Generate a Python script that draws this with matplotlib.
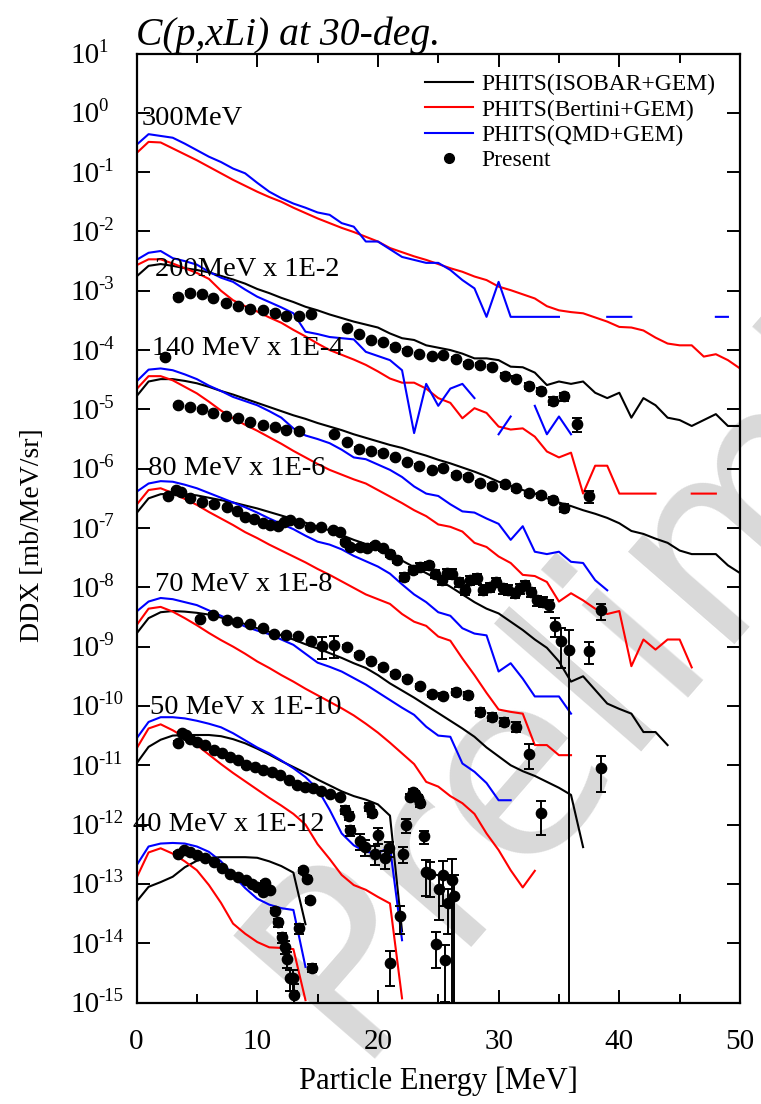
import numpy as np
import matplotlib
matplotlib.use('Agg')
import matplotlib.pyplot as plt
from matplotlib.ticker import LogLocator, NullLocator, MultipleLocator, NullFormatter
from matplotlib.transforms import blended_transform_factory, offset_copy
from matplotlib.lines import Line2D

plt.rcParams['font.family'] = ['Liberation Serif', 'DejaVu Serif']
plt.rcParams['axes.unicode_minus'] = False

nan = np.nan

# ---------------- model curves: log10(DDX) on a 1-MeV grid starting at 0 MeV ----------------
grid = np.arange(0, 51)

qmd_300 = [-0.54, -0.36, -0.39, -0.42, -0.52, -0.63, -0.74, -0.83, -0.94, -1.02, -1.18, -1.33, -1.44,
           -1.53, -1.60, -1.68, -1.72, -1.86, -1.92, -2.17, -2.17, -2.30, -2.43, -2.48, -2.53, -2.53,
           -2.65, -2.82, -2.96, -3.44, -2.85, -3.44, -3.44, -3.44, -3.44, -3.44, nan, nan, nan, -3.44,
           -3.44, -3.44, nan, nan, nan, nan, nan, nan, -3.44, -3.44]
bert_300 = [-0.68, -0.49, -0.50, -0.60, -0.70, -0.80, -0.91, -1.02, -1.13, -1.23, -1.33, -1.42, -1.50,
            -1.60, -1.69, -1.78, -1.86, -1.94, -2.01, -2.09, -2.17, -2.28, -2.35, -2.42, -2.48, -2.55,
            -2.62, -2.68, -2.76, -2.82, -2.93, -2.99, -3.06, -3.13, -3.26, -3.33, -3.36, -3.38, -3.45,
            -3.52, -3.61, -3.62, -3.67, -3.79, -3.89, -3.92, -3.92, -4.11, -4.07, -4.17, -4.31]

qmd_200 = [-2.48, -2.36, -2.33, -2.45, -2.50, -2.56, -2.68, -2.78, -2.85, -2.98, -3.10, -3.19, -3.28,
           -3.38, -3.69, -3.73, -3.78, -3.80, -3.82, -4.03, -4.10, -4.17, -4.34, -5.40, -4.57, -4.94,
           -4.65, -4.57, -4.81, nan, -5.42, -5.12, nan, -4.94, -5.42, -5.12, -5.42]
bert_200 = [-2.57, -2.47, -2.47, -2.54, -2.62, -2.70, -2.80, -3.00, -3.16, -3.26, -3.35, -3.45, -3.54,
            -3.66, -3.77, -3.89, -4.00, -4.08, -4.16, -4.25, -4.36, -4.48, -4.55, -4.55, -4.65, -4.81,
            -4.89, -5.15, -4.98, -5.06, -5.29, -5.34, -5.32, -5.46, -5.71, -5.81, -5.73, -6.42, -5.95,
            -5.95, -6.42, -6.42, -6.42, -6.42, nan, nan, -6.42, -6.42, -6.42]
isob_200 = [-2.76, -2.58, -2.55, -2.58, -2.62, -2.65, -2.69, -2.75, -2.81, -2.88, -2.97, -3.04, -3.12,
            -3.19, -3.27, -3.33, -3.40, -3.46, -3.52, -3.57, -3.62, -3.72, -3.80, -3.83, -3.92, -3.96,
            -4.00, -4.06, -4.14, -4.14, -4.17, -4.28, -4.29, -4.38, -4.59, -4.53, -4.57, -4.53, -4.72,
            -4.81, -4.72, -5.14, -4.81, -4.93, -5.14, -5.18, -5.28, -5.18, -5.08, -5.28, -5.28]

qmd_140 = [-4.53, -4.33, -4.31, -4.34, -4.41, -4.49, -4.60, -4.69, -4.79, -4.86, -4.93, -5.03, -5.14,
           -5.32, -5.44, -5.50, -5.57, -5.68, -5.81, -5.84, -5.93, -6.02, -6.14, -6.30, -6.42, -6.46,
           -6.60, -6.72, -6.74, -6.84, -6.93, -7.20, -6.97, -7.40, -7.44, -7.40, -7.57, -7.59, -7.88, -8.05]
bert_140 = [-4.66, -4.44, -4.44, -4.51, -4.62, -4.73, -4.87, -5.02, -5.15, -5.26, -5.36, -5.47, -5.58,
            -5.70, -5.81, -5.92, -6.02, -6.10, -6.18, -6.25, -6.36, -6.47, -6.58, -6.70, -6.80, -6.94,
            -6.98, -7.06, -7.25, -7.32, -7.48, -7.59, -7.79, -7.81, -7.91, -8.24, -8.10, -8.22, -8.36,
            -8.45, -8.40, -9.33, -8.88, -9.05, -8.88, -8.88, -9.35]
isob_140 = [-4.78, -4.53, -4.49, -4.49, -4.52, -4.56, -4.62, -4.69, -4.75, -4.82, -4.89, -4.96, -5.03,
            -5.10, -5.16, -5.23, -5.29, -5.35, -5.42, -5.48, -5.54, -5.60, -5.65, -5.72, -5.78, -5.85,
            -5.91, -5.98, -6.05, -6.13, -6.22, -6.29, -6.36, -6.42, -6.50, -6.57, -6.63, -6.70, -6.76,
            -6.83, -6.92, -7.05, -7.10, -7.18, -7.25, -7.38, -7.44, -7.44, -7.44, -7.63, -7.76]

qmd_80 = [-6.39, -6.25, -6.21, -6.22, -6.27, -6.33, -6.41, -6.49, -6.57, -6.65, -6.74, -6.84, -6.93,
          -7.02, -7.13, -7.23, -7.28, -7.36, -7.47, -7.56, -7.65, -7.77, -7.95, -8.12, -8.25, -8.42,
          -8.48, -8.69, -8.78, -8.81, -9.42, -9.28, -9.54, -9.84, -9.84, -9.84, -10.13]
bert_80 = [-6.61, -6.36, -6.33, -6.41, -6.51, -6.61, -6.73, -6.84, -6.95, -7.07, -7.17, -7.28, -7.38,
           -7.48, -7.58, -7.69, -7.79, -7.90, -8.01, -8.12, -8.20, -8.28, -8.45, -8.58, -8.65, -8.83,
           -8.90, -9.20, -9.48, -9.78, -10.06, -10.10, -10.13, -10.66, -10.66, -10.83, -10.83]
isob_80 = [-6.75, -6.50, -6.43, -6.42, -6.43, -6.45, -6.49, -6.53, -6.57, -6.62, -6.67, -6.73, -6.79,
           -6.85, -6.91, -6.98, -7.04, -7.12, -7.20, -7.27, -7.36, -7.45, -7.55, -7.66, -7.76, -7.87,
           -7.99, -8.12, -8.25, -8.36, -8.44, -8.58, -8.72, -8.88, -9.02, -9.25, -9.59, -9.50, -9.73,
           -9.96, -10.05, -10.13, -10.44, -10.44, -10.66]

qmd_70 = [-8.41, -8.24, -8.18, -8.20, -8.25, -8.30, -8.39, -8.48, -8.57, -8.66, -8.73, -8.79, -8.88,
          -8.97, -9.12, -9.27, -9.34, -9.42, -9.53, -9.64, -9.77, -9.90, -10.03, -10.15, -10.35, -10.50,
          -10.52, -10.97, -11.11, -11.30, -11.59, -11.59]
bert_70 = [-8.64, -8.36, -8.33, -8.41, -8.52, -8.64, -8.77, -8.89, -9.00, -9.12, -9.25, -9.36, -9.48,
           -9.59, -9.71, -9.82, -9.93, -10.04, -10.16, -10.30, -10.45, -10.62, -10.80, -10.98, -11.28,
           -11.36, -11.52, -11.64, -11.82, -12.15, -12.43, -12.77, -13.06, -12.78]
isob_70 = [-8.78, -8.52, -8.42, -8.40, -8.41, -8.43, -8.46, -8.51, -8.56, -8.62, -8.69, -8.75, -8.81,
           -8.88, -8.96, -9.03, -9.11, -9.19, -9.28, -9.36, -9.48, -9.62, -9.74, -9.86, -9.99, -10.12,
           -10.25, -10.38, -10.52, -10.70, -10.85, -11.00, -11.10, -11.18, -11.28, -11.38, -11.50, -12.38]

qmd_50 = [-10.55, -10.27, -10.19, -10.19, -10.21, -10.25, -10.30, -10.36, -10.46, -10.58, -10.70, -10.80,
          -10.92, -11.05, -11.20, -11.40, -11.75, -12.15, -12.35, -12.46, -12.48, -12.38, -13.95]
bert_50 = [-10.72, -10.38, -10.31, -10.41, -10.53, -10.66, -10.82, -10.98, -11.13, -11.27, -11.41, -11.55,
           -11.68, -11.82, -12.00, -12.33, -12.58, -12.85, -13.02, -13.10, -13.22, -13.33, -14.93]
isob_50 = [-10.97, -10.69, -10.57, -10.50, -10.49, -10.49, -10.49, -10.51, -10.56, -10.63, -10.72, -10.82,
           -10.93, -11.03, -11.13, -11.24, -11.34, -11.44, -11.52, -11.58, -11.66, -11.85, -13.80]

qmd_40 = [-12.69, -12.37, -12.32, -12.31, -12.32, -12.37, -12.46, -12.62, -12.85, -13.07, -13.25, -13.35,
          -13.41, -13.44, -14.40]
bert_40 = [-12.90, -12.47, -12.40, -12.49, -12.62, -12.77, -13.02, -13.32, -13.67, -13.84, -13.98, -14.07,
           -14.08, -14.10, -14.96]
isob_40 = [-13.30, -13.05, -12.97, -12.88, -12.72, -12.61, -12.56, -12.55, -12.55, -12.55, -12.56, -12.62,
           -12.70, -12.81, -13.68]

# ---------------- measured data: energy [MeV], log10(DDX), relative error ----------------
exp200_E = [2.4, 3.46, 4.43, 5.4, 6.36, 7.4, 8.4, 9.4, 10.45, 11.45, 12.4, 13.45, 14.45, 17.4, 18.45,
            19.45, 20.45, 21.45, 22.4, 23.4, 24.45, 25.4, 26.5, 27.5, 28.5, 29.45, 30.5, 31.45, 32.5,
            33.5, 34.5, 35.45, 36.5]
exp200_L = [-4.11, -3.10, -3.03, -3.06, -3.13, -3.21, -3.26, -3.30, -3.33, -3.37, -3.43, -3.43, -3.39,
            -3.63, -3.73, -3.83, -3.87, -3.94, -4.01, -4.07, -4.10, -4.09, -4.15, -4.24, -4.25, -4.29,
            -4.43, -4.48, -4.60, -4.69, -4.86, -4.78, -5.25]
exp200_R = [0.10, 0.05, 0.05, 0.05, 0.05, 0.05, 0.05, 0.05, 0.05, 0.05, 0.05, 0.05, 0.05, 0.05, 0.05,
            0.05, 0.05, 0.05, 0.05, 0.05, 0.05, 0.06, 0.07, 0.08, 0.08, 0.08, 0.10, 0.10, 0.12, 0.12,
            0.15, 0.15, 0.25]

exp140_E = [3.46, 4.43, 5.4, 6.36, 7.4, 8.4, 9.4, 10.45, 11.45, 12.4, 13.45, 16.4, 17.4, 18.4, 19.4,
            20.4, 21.4, 22.4, 23.4, 24.45, 25.4, 26.5, 27.5, 28.5, 29.45, 30.5, 31.45, 32.5, 33.5, 34.5,
            35.45, 37.5]
exp140_L = [-4.93, -4.96, -5.00, -5.06, -5.11, -5.15, -5.21, -5.26, -5.30, -5.34, -5.36, -5.42, -5.55,
            -5.66, -5.70, -5.73, -5.81, -5.89, -5.95, -6.03, -5.98, -6.11, -6.14, -6.24, -6.29, -6.26,
            -6.33, -6.41, -6.45, -6.52, -6.66, -6.46]
exp140_R = [0.05] * 20 + [0.06, 0.07, 0.07, 0.08, 0.08, 0.09, 0.10, 0.10, 0.11, 0.12, 0.15, 0.23]

exp80_E = [2.6, 3.3, 3.7, 4.4, 5.4, 6.4, 7.5, 8.3, 9.0, 9.7, 10.5, 11.1, 11.75, 12.2, 12.7, 13.5, 14.4,
           15.3, 16.3, 16.9, 17.3, 17.7, 18.5, 19.1, 19.8, 20.45, 21.0, 21.6, 22.2, 22.9, 23.5, 24.2,
           24.7, 25.3, 25.7, 26.1, 26.7, 27.2, 27.6, 28.2, 28.7, 29.3, 29.8, 30.4, 30.8, 31.4, 31.8,
           32.2, 32.7, 33.2, 33.7, 34.2, 34.7, 35.2, 35.8, 37.5, 38.5]
exp80_L = [-6.46, -6.36, -6.40, -6.50, -6.56, -6.59, -6.65, -6.71, -6.81, -6.85, -6.92, -6.95, -6.97,
           -6.90, -6.87, -6.92, -6.98, -6.98, -7.04, -7.06, -7.23, -7.32, -7.32, -7.34, -7.29, -7.34,
           -7.43, -7.54, -7.82, -7.71, -7.65, -7.63, -7.77, -7.88, -7.76, -7.77, -7.91, -8.05, -7.88,
           -7.85, -8.04, -8.00, -7.91, -8.02, -8.04, -8.10, -8.02, -7.96, -8.08, -8.22, -8.24, -8.30,
           -8.65, -8.90, -9.06, -9.07, -8.39]
exp80_R = ([0.05] * 20 + [0.08, 0.08, 0.10, 0.10, 0.10, 0.10, 0.12, 0.12, 0.15, 0.15, 0.15, 0.15,
           0.15, 0.18, 0.18, 0.18, 0.18, 0.18, 0.18, 0.18, 0.18, 0.18, 0.18, 0.18, 0.18, 0.18, 0.18,
           0.18, 0.18, 0.20, 0.20, 0.22, 0.35, 0.66, 1.20, 0.40, 0.30])

exp70_E = [5.3, 6.36, 7.47, 8.34, 9.4, 10.46, 11.4, 12.4, 13.4, 14.46, 15.4, 16.4, 17.4, 18.4, 19.4,
           20.45, 21.4, 22.4, 23.45, 24.45, 25.4, 26.5, 27.5, 28.5, 29.45, 30.45, 31.45, 32.5, 33.5, 38.5]
exp70_L = [-8.54, -8.46, -8.55, -8.58, -8.62, -8.69, -8.78, -8.81, -8.82, -8.91, -8.99, -8.97, -9.01,
           -9.14, -9.24, -9.35, -9.46, -9.55, -9.67, -9.80, -9.83, -9.76, -9.82, -10.10, -10.18, -10.27,
           -10.35, -10.81, -11.80, -11.05]
exp70_R = [0.05, 0.05, 0.05, 0.05, 0.05, 0.05, 0.05, 0.05, 0.05, 0.06, 0.40, 0.40, 0.08, 0.08, 0.08,
           0.08, 0.08, 0.08, 0.08, 0.10, 0.10, 0.12, 0.12, 0.15, 0.15, 0.15, 0.18, 0.45, 0.58, 0.60]

exp50_E = [3.46, 3.75, 4.1, 4.43, 5.0, 5.7, 6.4, 7.06, 7.75, 8.4, 9.1, 9.8, 10.5, 11.2, 11.9, 12.6, 13.3,
           14.0, 14.65, 15.3, 16.0, 16.9, 17.3, 17.6, 17.7, 18.5, 18.9, 19.3, 19.5, 19.8, 20.0, 20.6,
           20.9, 21.0, 21.8, 22.1, 22.3, 22.65, 22.9, 23.1, 23.3, 23.5, 23.8, 24.0, 24.3, 24.8, 25.1,
           25.4, 25.6, 25.8, 26.1, 26.3]
exp50_L = [-10.62, -10.46, -10.49, -10.55, -10.60, -10.66, -10.75, -10.80, -10.86, -10.91, -11.00,
           -11.03, -11.08, -11.11, -11.17, -11.25, -11.34, -11.36, -11.39, -11.43, -11.48, -11.53,
           -11.75, -11.85, -12.10, -12.27, -12.38, -11.70, -11.81, -12.49, -12.18, -12.57, -12.40,
           -14.33, -13.55, -12.49, -12.01, -11.53, -11.45, -11.48, -11.55, -11.64, -12.20, -12.80,
           -12.83, -14.02, -13.08, -12.85, -14.29, -13.32, -12.93, -13.20]
exp50_R = [0.05] * 22 + [0.15, 0.15, 0.20, 0.30, 0.30, 0.15, 0.15, 0.35, 0.30, 0.35, 0.30, 0.60,
           0.50, 0.30, 0.25, 0.10, 0.10, 0.10, 0.10, 0.15, 0.25, 0.60, 0.60, 0.60, 0.70, 0.70, 0.80,
           0.70, 1.20, 1.20]

exp40_E = [3.46, 3.9, 4.4, 5.0, 5.7, 6.4, 7.1, 7.75, 8.4, 9.1, 9.6, 10.0, 10.5, 10.65, 11.06, 11.5,
           11.75, 12.03, 12.3, 12.45, 12.7, 13.0, 13.05, 13.5, 13.8, 14.1, 14.4, 14.5]
exp40_L = [-12.49, -12.43, -12.46, -12.52, -12.57, -12.63, -12.73, -12.83, -12.88, -12.94, -13.00,
           -13.05, -13.14, -12.98, -13.10, -13.45, -13.65, -13.90, -14.06, -14.26, -14.59, -14.59,
           -14.87, -13.75, -12.77, -12.91, -13.28, -14.41]
exp40_R = [0.05] * 15 + [0.10, 0.15, 0.20, 0.25, 0.30, 0.40, 0.40, 0.50, 0.20, 0.10, 0.10, 0.10, 0.15]

labels = ['300MeV', '200MeV x 1E-2', '140 MeV x 1E-4', '80 MeV x 1E-6', '70 MeV x 1E-8',
          '50 MeV x 1E-10', '40 MeV x 1E-12']
label_E = [0.4, 1.5, 1.3, 0.95, 1.5, 1.1, -0.3]
label_L = [-0.10, -2.65, -3.97, -5.99, -7.95, -10.03, -12.0]

legend_names = ['PHITS(ISOBAR+GEM)', 'PHITS(Bertini+GEM)', 'PHITS(QMD+GEM)', 'Present']

# ---------------- drawing ----------------
W, H = 761, 1104
fig = plt.figure(figsize=(W / 100, H / 100), dpi=100)
ax = fig.add_axes([136.5 / W, 1 - 1002.5 / H, (740 - 136.5) / W, (1002.5 - 53.5) / H])
ax.set_facecolor('none')
ax.set_zorder(1)

fig.text(350 / W, 1 - 1058 / H, 'Preliminary', rotation=49, rotation_mode='anchor', ha='left',
         va='baseline', fontsize=185, color='#d9d9d9', family='DejaVu Sans', zorder=0)

def curve(vals, color):
    v = 10.0 ** np.array(vals, dtype=float)
    ax.plot(grid[:len(v)], v, color=color, lw=1.5, zorder=2)

for vals in [isob_200, isob_140, isob_80, isob_70, isob_50, isob_40]:
    curve(vals, 'black')
for vals in [bert_300, bert_200, bert_140, bert_80, bert_70, bert_50, bert_40]:
    curve(vals, 'red')
for vals in [qmd_300, qmd_200, qmd_140, qmd_80, qmd_70, qmd_50, qmd_40]:
    curve(vals, 'blue')

for E, L, R in [(exp200_E, exp200_L, exp200_R), (exp140_E, exp140_L, exp140_R),
                (exp80_E, exp80_L, exp80_R), (exp70_E, exp70_L, exp70_R),
                (exp50_E, exp50_L, exp50_R), (exp40_E, exp40_L, exp40_R)]:
    v = 10.0 ** np.array(L)
    err = v * np.array(R)
    ax.errorbar(E, v, yerr=err, fmt='o', color='black', ms=7.4, capsize=3.6, elinewidth=1.4,
                capthick=1.4, zorder=3)

for t, e, l in zip(labels, label_E, label_L):
    ax.text(e, 10.0 ** l, t, fontsize=20.5, ha='left', va='center', zorder=4, clip_on=False)

ax.set_yscale('log')
ax.set_xlim(0, 50)
ax.set_ylim(1e-15, 1e1)
ax.yaxis.set_major_locator(LogLocator(base=10, numticks=30))
ax.yaxis.set_minor_locator(NullLocator())
ax.yaxis.set_major_formatter(NullFormatter())
ax.xaxis.set_major_locator(MultipleLocator(10))
ax.xaxis.set_minor_locator(MultipleLocator(5))
ax.tick_params(which='both', direction='in', top=True, right=True, width=1.4)
ax.tick_params(which='major', length=9.5)
ax.tick_params(which='minor', length=6.5)
ax.tick_params(axis='x', which='major', labelsize=21, pad=19)
for s in ax.spines.values():
    s.set_linewidth(1.6)

# y tick labels drawn as "10" plus a smaller raised exponent, left-aligned like the original
ytr = blended_transform_factory(fig.transFigure, ax.transData)
base_tr = offset_copy(ytr, fig=fig, x=0, y=-9.5, units='dots')
exp_tr = offset_copy(ytr, fig=fig, x=0, y=1.5, units='dots')
for tv in ax.get_yticks():
    if 1e-15 * 0.999 <= tv <= 1e1 * 1.001:
        k = int(round(np.log10(tv)))
        ax.text(70 / W, tv, '10', transform=base_tr, fontsize=21, ha='left', va='baseline')
        ax.text(98.5 / W, tv, str(k), transform=exp_tr, fontsize=13.5, ha='left', va='baseline')

ax.set_xlabel('Particle Energy [MeV]', fontsize=22, labelpad=8)
ax.set_ylabel('DDX [mb/MeV/sr]', fontsize=20)
ax.yaxis.set_label_coords(-0.152, 0.4926)
ax.set_title('C(p,xLi) at 30-deg.', fontsize=28.5, style='italic', loc='left', pad=5)

handles = [Line2D([], [], color='black', lw=1.5), Line2D([], [], color='red', lw=1.5),
           Line2D([], [], color='blue', lw=1.5),
           Line2D([], [], color='black', marker='o', ls='none', ms=7)]
ax.legend(handles, legend_names, loc='upper right', bbox_to_anchor=(0.974, 0.9885), frameon=False,
          fontsize=17, handlelength=2.0, handletextpad=0.35, labelspacing=0.16, borderaxespad=0.0)

fig.savefig('out.png', dpi=100)
